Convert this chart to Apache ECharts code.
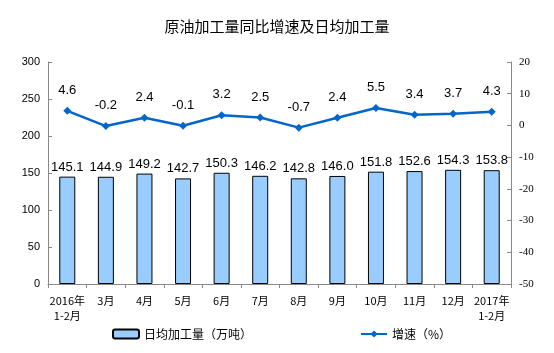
<!DOCTYPE html>
<html><head><meta charset="utf-8">
<script src="https://cdn.jsdelivr.net/npm/echarts@6/dist/echarts.min.js"></script>
<style>html,body{margin:0;padding:0;background:#fff}#c{width:554px;height:353px}</style>
</head><body><div id="c"></div>
<script>
const categories = ['2016年\n1-2月','3月','4月','5月','6月','7月','8月','9月','10月','11月','12月','2017年\n1-2月'];
const dailyOutput = [145.1,144.9,149.2,142.7,150.3,146.2,142.8,146.0,151.8,152.6,154.3,153.8];
const growth = [4.6,-0.2,2.4,-0.1,3.2,2.5,-0.7,2.4,5.5,3.4,3.7,4.3];
const chart = echarts.init(document.getElementById('c'));
const axisColor = '#888';
chart.setOption({
  animation:false,
  title:{text:'原油加工量同比增速及日均加工量',left:'center',top:14,textStyle:{fontSize:15,fontWeight:'normal',color:'#000',fontFamily:'Noto Sans CJK SC'}},
  grid:{left:48,right:43,top:62,bottom:69},
  legend:{bottom:8,left:107,itemGap:108,itemWidth:26,itemHeight:9,textStyle:{fontSize:12,color:'#000',fontFamily:'Noto Sans CJK SC'},
    data:[{name:'日均加工量（万吨）'},{name:'增速（%）'}]},
  xAxis:{type:'category',data:categories,
    axisLine:{lineStyle:{color:axisColor}},
    axisTick:{show:true,length:4,lineStyle:{color:axisColor}},
    axisLabel:{fontSize:11,color:'#000',lineHeight:15,margin:9,interval:0,fontFamily:'Noto Sans CJK SC'}},
  yAxis:[
    {type:'value',min:0,max:300,interval:50,splitLine:{show:false},
     axisLine:{show:true,lineStyle:{color:axisColor}},
     axisTick:{show:true,inside:true,length:4,lineStyle:{color:axisColor}},
     axisLabel:{fontSize:11,color:'#000',fontFamily:'Arial'}},
    {type:'value',min:-50,max:20,interval:10,splitLine:{show:false},
     axisLine:{show:true,lineStyle:{color:axisColor}},
     axisTick:{show:true,inside:true,length:4,lineStyle:{color:axisColor}},
     axisLabel:{fontSize:11,color:'#000',fontFamily:'Liberation Serif',margin:8}}
  ],
  series:[
    {name:'日均加工量（万吨）',type:'bar',data:dailyOutput,barWidth:16,
     itemStyle:{color:'#99CCFF',borderColor:'#000',borderWidth:1},
     label:{show:true,position:'top',distance:3,fontSize:13,color:'#000',fontFamily:'Arial',formatter:p=>p.value.toFixed(1)}},
    {name:'增速（%）',type:'line',yAxisIndex:1,data:growth,symbol:'diamond',symbolSize:8,
     lineStyle:{color:'#0066CC',width:2.5},itemStyle:{color:'#0066CC'},
     label:{show:true,position:'top',distance:10,fontSize:13,color:'#000',fontFamily:'Arial',formatter:p=>p.value.toFixed(1)}}
  ]
});
</script></body></html>
